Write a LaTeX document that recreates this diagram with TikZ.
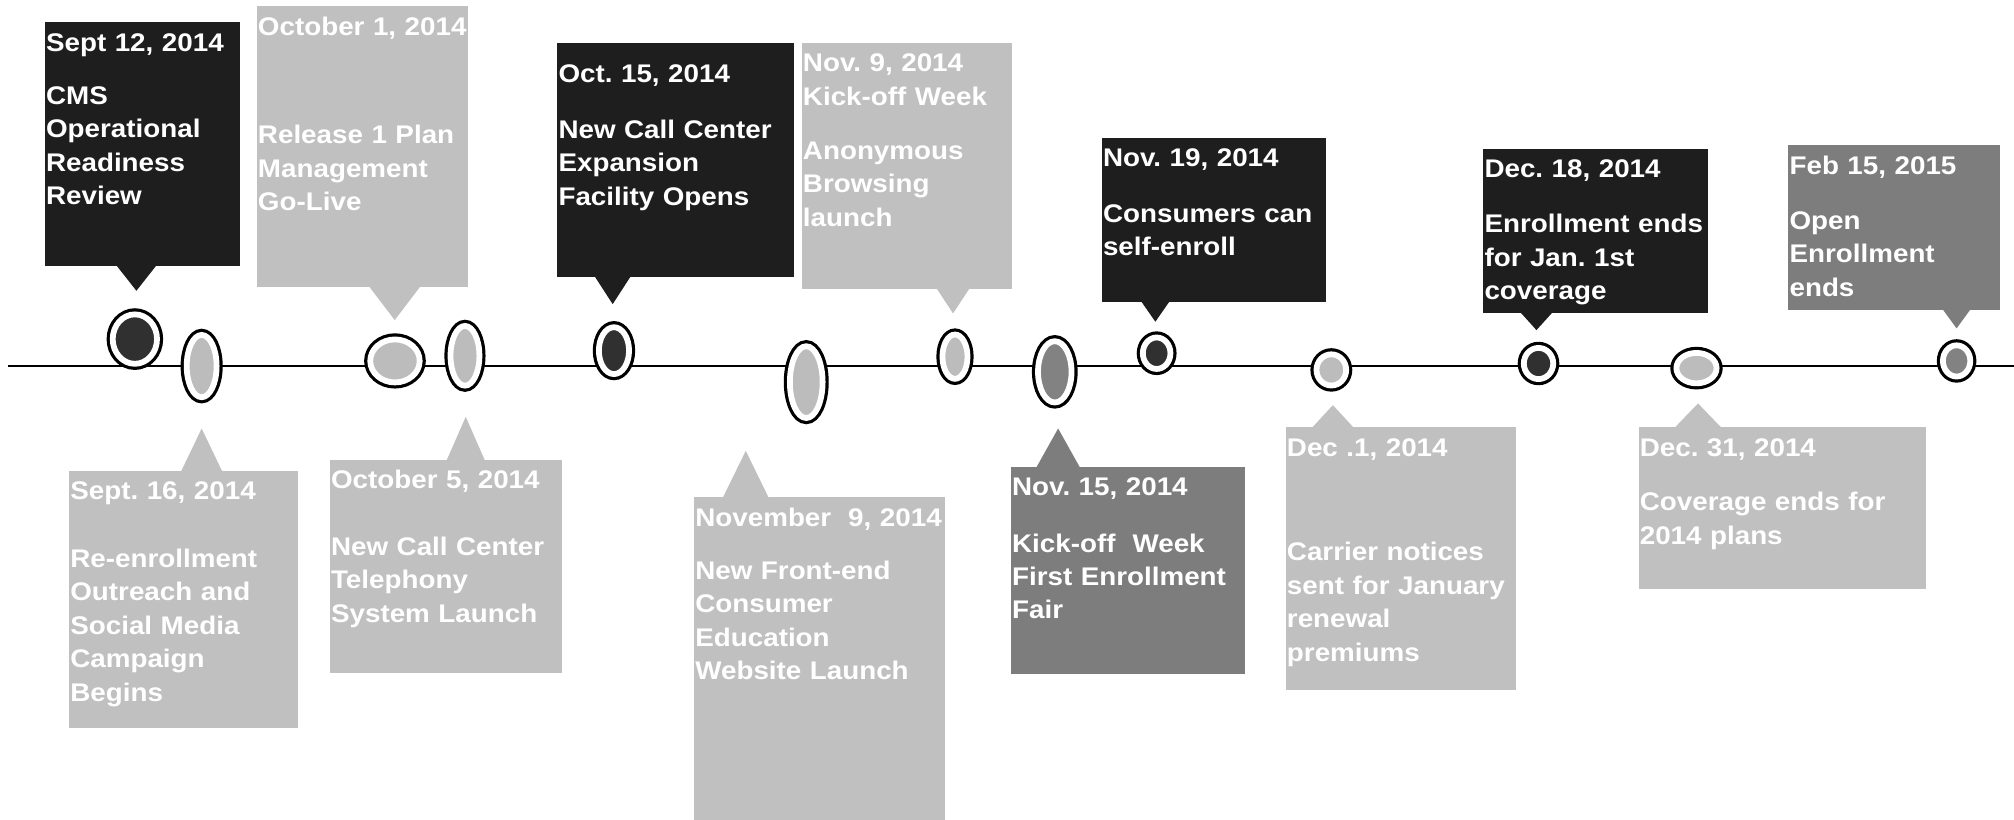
\documentclass[tikz,border=0pt]{standalone}
\usepackage{fontspec}
\newfontfamily\evfont{Liberation Sans}[FakeStretch=1.09]
\usetikzlibrary{shapes.geometric, calc}
\definecolor{dkc}{RGB}{30,30,30}
\definecolor{ltc}{RGB}{192,192,192}
\definecolor{mdc}{RGB}{125,125,125}
\definecolor{dkdot}{RGB}{48,48,48}
\definecolor{ltdot}{RGB}{188,188,188}
\definecolor{mddot}{RGB}{130,130,130}

\begin{document}
\begin{tikzpicture}[x=0.02cm, y=-0.02cm,
  evbox/.style={fill=#1, text=white, anchor=north west, inner xsep=0.02cm, inner ysep=0pt, align=left, text height=0.45cm, font=\evfont\bfseries\fontsize{11.3pt}{14.8pt}\selectfont\frenchspacing},
  evdot/.style={ellipse, inner sep=0pt, fill=#1, draw=white, line width=0.09cm, preaction={draw=black, line width=0.19cm}}]
\useasboundingbox (0,0) rectangle (1568,638);
\node[evbox=dkc, text width=2.996cm, text depth=3.34cm] (bA) at (34.5,16.9) {Sept 12, 2014\\[0.31cm]CMS\\Operational\\Readiness\\Review};
\node[evbox=ltc, text width=3.248cm, text depth=3.922cm] (bB) at (199.5,4.7) {October~1,~2014\\[1.17cm]Release 1 Plan\\Management\\Go-Live};
\node[evbox=dkc, text width=3.64cm, text height=0.61cm, text depth=3.03cm] (bC) at (433.5,33.5) {Oct. 15, 2014\\[0.35cm]New Call Center\\Expansion\\Facility Opens};
\node[evbox=ltc, text width=3.242cm, text depth=3.378cm] (bD) at (623.8,33.2) {Nov. 9, 2014\\Kick-off Week\\[0.32cm]Anonymous\\Browsing\\launch};
\node[evbox=dkc, text width=3.452cm, text depth=2.11cm] (bE) at (857.4,107) {Nov. 19, 2014\\[0.34cm]Consumers can\\self-enroll};
\node[evbox=dkc, text width=3.462cm, text depth=2.11cm] (bF) at (1154.4,115.5) {Dec. 18, 2014\\[0.34cm]Enrollment ends\\for Jan. 1st\\coverage};
\node[evbox=mdc, text width=3.262cm, text depth=2.11cm] (bG) at (1391.9,112.9) {Feb 15, 2015\\[0.34cm]Open\\Enrollment\\ends};
\node[evbox=ltc, text width=3.52cm, text depth=3.558cm] (bH) at (53.4,366) {Sept. 16, 2014\\[0.54cm]Re-enrollment\\Outreach and\\Social Media\\Campaign\\Begins};
\node[evbox=ltc, text width=3.572cm, text depth=2.876cm] (bI) at (256.4,357.7) {October 5, 2014\\[0.52cm]New Call Center\\Telephony\\System Launch};
\node[evbox=ltc, text width=3.866cm, text depth=4.574cm] (bJ) at (540,386.8) {November\ \ 9, 2014\\[0.31cm]New Front-end\\Consumer\\Education\\Website Launch};
\node[evbox=mdc, text width=3.6cm, text depth=2.778cm] (bK) at (786.6,363) {Nov. 15, 2014\\[0.36cm]Kick-off\ \ Week\\First Enrollment\\Fair};
\node[evbox=ltc, text width=3.548cm, text depth=3.644cm] (bL) at (1000.6,332.3) {Dec .1, 2014\\[1.11cm]Carrier notices\\sent for January\\renewal\\premiums};
\node[evbox=ltc, text width=4.438cm, text depth=2.064cm] (bM) at (1275.3,332.3) {Dec. 31, 2014\\[0.33cm]Coverage ends for\\2014 plans};
\coordinate (tA) at (106.2,226.4);
\coordinate (tB) at (307.3,249.2);
\coordinate (tC) at (477,236.8);
\coordinate (tD) at (742,244);
\coordinate (tE) at (899.5,250.5);
\coordinate (tF) at (1196.2,257);
\coordinate (tG) at (1523.3,255.7);
\coordinate (tH) at (157,333.6);
\coordinate (tI) at (362.6,324.5);
\coordinate (tJ) at (580.6,351);
\coordinate (tK) at (823.8,333.6);
\coordinate (tL) at (1037.7,315.4);
\coordinate (tM) at (1322,314.1);
\fill[dkc] ($(bA.south -| tA)+(-16,-1)$) -- (tA) -- ($(bA.south -| tA)+(16,-1)$) -- cycle;
\fill[ltc] ($(bB.south -| tB)+(-20,-1)$) -- (tB) -- ($(bB.south -| tB)+(20,-1)$) -- cycle;
\fill[dkc] ($(bC.south -| tC)+(-14,-1)$) -- (tC) -- ($(bC.south -| tC)+(14,-1)$) -- cycle;
\fill[ltc] ($(bD.south -| tD)+(-13,-1)$) -- (tD) -- ($(bD.south -| tD)+(13,-1)$) -- cycle;
\fill[dkc] ($(bE.south -| tE)+(-11,-1)$) -- (tE) -- ($(bE.south -| tE)+(11,-1)$) -- cycle;
\fill[dkc] ($(bF.south -| tF)+(-12.5,-1)$) -- (tF) -- ($(bF.south -| tF)+(12.5,-1)$) -- cycle;
\fill[mdc] ($(bG.south -| tG)+(-11,-1)$) -- (tG) -- ($(bG.south -| tG)+(11,-1)$) -- cycle;
\fill[ltc] ($(bH.north -| tH)+(-16,1)$) -- (tH) -- ($(bH.north -| tH)+(16,1)$) -- cycle;
\fill[ltc] ($(bI.north -| tI)+(-15,1)$) -- (tI) -- ($(bI.north -| tI)+(15,1)$) -- cycle;
\fill[ltc] ($(bJ.north -| tJ)+(-18,1)$) -- (tJ) -- ($(bJ.north -| tJ)+(18,1)$) -- cycle;
\fill[mdc] ($(bK.north -| tK)+(-17,1)$) -- (tK) -- ($(bK.north -| tK)+(17,1)$) -- cycle;
\fill[ltc] ($(bL.north -| tL)+(-16.5,1)$) -- (tL) -- ($(bL.north -| tL)+(16.5,1)$) -- cycle;
\fill[ltc] ($(bM.north -| tM)+(-18.5,1)$) -- (tM) -- ($(bM.north -| tM)+(18.5,1)$) -- cycle;
\coordinate (tl0) at (6,285);
\coordinate (tl1) at (1568,285);
\draw[line width=0.03cm] (tl0) -- (tl1);
\node[evdot=dkdot, minimum width=0.69cm, minimum height=0.77cm] (m1) at (105,264) {};
\node[evdot=ltdot, minimum width=0.466cm, minimum height=0.97cm] (m2) at (157,285) {};
\node[evdot=ltdot, minimum width=0.77cm, minimum height=0.67cm] (m3) at (307.5,281) {};
\node[evdot=ltdot, minimum width=0.45cm, minimum height=0.93cm] (m4) at (362,277) {};
\node[evdot=dkdot, minimum width=0.47cm, minimum height=0.73cm] (m5) at (478,273) {};
\node[evdot=ltdot, minimum width=0.51cm, minimum height=1.118cm] (m6) at (627.7,297.5) {};
\node[evdot=ltdot, minimum width=0.39cm, minimum height=0.69cm] (m7) at (743.5,277.7) {};
\node[evdot=mddot, minimum width=0.522cm, minimum height=0.954cm] (m8) at (821.2,289.5) {};
\node[evdot=dkdot, minimum width=0.43cm, minimum height=0.49cm] (m9) at (900.5,275) {};
\node[evdot=ltdot, minimum width=0.462cm, minimum height=0.486cm] (m10) at (1036.5,288) {};
\node[evdot=dkdot, minimum width=0.458cm, minimum height=0.486cm] (m11) at (1197.8,283) {};
\node[evdot=ltdot, minimum width=0.626cm, minimum height=0.474cm] (m12) at (1320.8,286.6) {};
\node[evdot=mddot, minimum width=0.426cm, minimum height=0.486cm] (m13) at (1523.3,281) {};
\end{tikzpicture}
\end{document}
